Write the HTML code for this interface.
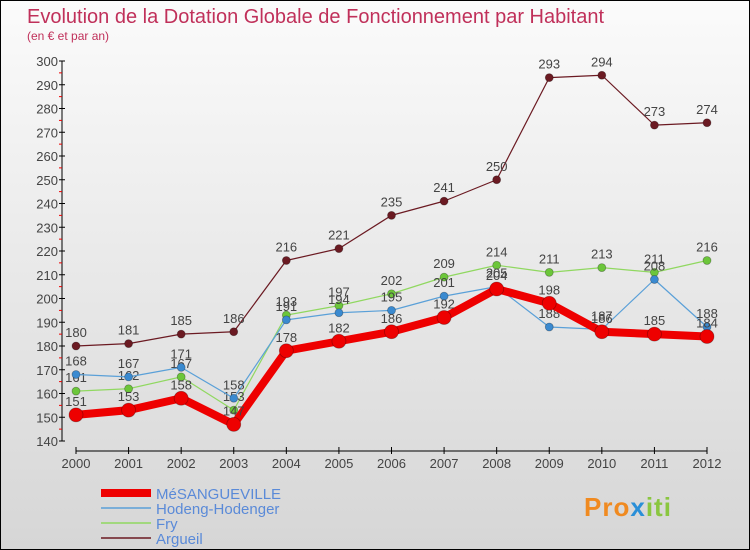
<!DOCTYPE html>
<html><head><meta charset="utf-8"><style>
body{margin:0;}
#c{width:750px;height:550px;position:relative;box-sizing:border-box;border:1px solid #000;background:linear-gradient(#fbfbfb,#d6d6d6);font-family:"Liberation Sans",sans-serif;overflow:hidden}
text{font-family:"Liberation Sans",sans-serif}
</style></head><body>
<div id="c">
<svg id="s" width="750" height="550">
<text x="26" y="22" font-size="20" fill="#c0305a">Evolution de la Dotation Globale de Fonctionnement par Habitant</text>
<text x="26" y="39" font-size="12" fill="#c0305a">(en € et par an)</text>
<g id="axes"></g><g id="series"></g><g id="legend"></g>
<g><text x="583" y="515" font-size="26" font-weight="bold" fill="#f08a20" letter-spacing="1">Pro<tspan fill="#2a8fd8">x</tspan><tspan fill="#8ac640">iti</tspan></text></g>
</svg></div>
<script>
const years=[2000,2001,2002,2003,2004,2005,2006,2007,2008,2009,2010,2011,2012];
const yTicks=[140,150,160,170,180,190,200,210,220,230,240,250,260,270,280,290,300];
const mesangueville=[151,153,158,147,178,182,186,192,204,198,186,185,184];
const hodeng=[168,167,171,158,191,194,195,201,205,188,187,208,188];
const fry=[161,162,167,153,193,197,202,209,214,211,213,211,216];
const argueil=[180,181,185,186,216,221,235,241,250,293,294,273,274];
const names=["MéSANGUEVILLE","Hodeng-Hodenger","Fry","Argueil"];
const NS="http://www.w3.org/2000/svg";
const X=i=>75+i*(706-75)/12;
const Y=v=>440-(v-140)*380/160;
function el(t,a,p){const e=document.createElementNS(NS,t);for(const k in a)e.setAttribute(k,a[k]);p.appendChild(e);return e;}
const ax=document.getElementById('axes');
el('line',{x1:61,y1:60,x2:61,y2:440,stroke:'#000'},ax);
el('line',{x1:75,y1:450,x2:706,y2:450,stroke:'#000'},ax);
yTicks.forEach(v=>{el('line',{x1:58,x2:64,y1:Y(v),y2:Y(v),stroke:'#000'},ax);
 if(v<300)el('line',{x1:58,x2:61,y1:Y(v+5),y2:Y(v+5),stroke:'#e00'},ax);
 const t=el('text',{x:57,y:Y(v)+5,'font-size':13,fill:'#444','text-anchor':'end'},ax);t.textContent=v;
 });
years.forEach((yr,i)=>{el('line',{x1:X(i),x2:X(i),y1:446,y2:453,stroke:'#000'},ax);
 const t=el('text',{x:X(i),y:467,'font-size':13,fill:'#444','text-anchor':'middle'},ax);t.textContent=yr;
 });
const sg=document.getElementById('series');
const defs=[[argueil,'#6b1a22','#6b1a22',1.2,4],[fry,'#90d860','#6cc63a',1.2,4],[hodeng,'#5aa0d8','#3a8ad0',1.2,4],[mesangueville,'#ee0000','#ee0000',8,7]];
const sn=['series-argueil','series-fry','series-hodeng','series-mesangueville'];
defs.forEach(([d,lc,pc,w,r],k)=>{
 const g=el('g',{},sg);
 el('polyline',{points:d.map((v,i)=>X(i)+','+Y(v)).join(' '),fill:'none',stroke:lc,'stroke-width':w,'stroke-linejoin':'round'},g);
 d.forEach((v,i)=>{const c=el('circle',{cx:X(i),cy:Y(v),r:r,fill:pc,stroke:'rgba(0,0,0,0.3)','stroke-width':0.8},g);
  
  const t=el('text',{x:X(i),y:Y(v)-9,'font-size':13,fill:'#444','text-anchor':'middle'},g);t.textContent=v;
  });
});
const lg=document.getElementById('legend');
const lc=[['#ee0000',8],['#5aa0d8',1.5],['#90d860',1.5],['#6b1a22',1.5]];
names.forEach((n,k)=>{const y=492+k*15;const g=el('g',{},lg);
 
 el('line',{x1:100,x2:150,y1:y,y2:y,stroke:lc[k][0],'stroke-width':lc[k][1]},g);
 const t=el('text',{x:155,y:y+6,'font-size':15,fill:'#5a8ad8'},g);t.textContent=n;});
</script></body></html>
